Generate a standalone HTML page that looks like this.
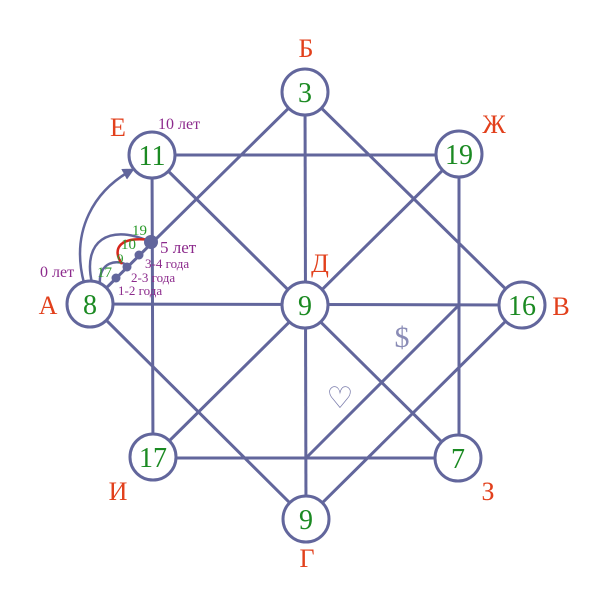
<!DOCTYPE html>
<html><head><meta charset="utf-8"><style>
html,body{margin:0;padding:0;background:#fff;}
svg{display:block;}
text{font-family:"Liberation Serif","DejaVu Serif",serif;}
.n{fill:#1b8a22;font-size:28px;text-anchor:middle;}
.l{fill:#e2401c;font-size:26px;text-anchor:middle;}
.p{fill:#8c2a8c;}
.g{fill:#2a9a2a;}
</style></head><body>
<svg width="610" height="607" viewBox="0 0 610 607" xmlns="http://www.w3.org/2000/svg">
<defs><marker id="ar" markerWidth="12" markerHeight="12" refX="9" refY="6" orient="auto" markerUnits="userSpaceOnUse"><path d="M0,0 L12,6 L0,12 z" fill="#62669c"/></marker></defs>
<g stroke="#62669c" stroke-width="3" fill="none">
<path d="M152,155 H459 V458 H153 Z"/>
<path d="M305,92 L522,305 L306,519 L90,304 Z"/>
<line x1="90" y1="304" x2="522" y2="305"/>
<line x1="305" y1="92" x2="306" y2="519"/>
<line x1="152" y1="155" x2="458" y2="458"/>
<line x1="459" y1="154" x2="153" y2="457"/>
<line x1="459" y1="305" x2="306" y2="458"/>
<path d="M84,283 C70,230 95,190 132,170" stroke-width="2.5" marker-end="url(#ar)"/>
<path d="M92,283 C82,240 110,225 146,240" stroke-width="2.5"/>
<path d="M100,284 C98,262 118,258 128,266" stroke-width="2.5"/>
</g>
<path d="M122,264 C112,250 118,236 150,240" stroke="#d6261c" stroke-width="2.5" fill="none"/>
<g fill="#62669c">
<circle cx="116" cy="278" r="4.5"/><circle cx="127" cy="267" r="4.5"/><circle cx="139" cy="255" r="4.5"/><circle cx="151" cy="242" r="7"/>
</g>
<g fill="#fff" stroke="#62669c" stroke-width="3">
<circle cx="305" cy="92" r="23"/><circle cx="152" cy="155" r="23"/><circle cx="459" cy="154" r="23"/>
<circle cx="90" cy="304" r="23"/><circle cx="305" cy="305" r="23"/><circle cx="522" cy="305" r="23"/>
<circle cx="153" cy="457" r="23"/><circle cx="458" cy="458" r="23"/><circle cx="306" cy="519" r="23"/>
</g>
<text class="n" x="305" y="102">3</text>
<text class="n" x="152" y="165">11</text>
<text class="n" x="459" y="164">19</text>
<text class="n" x="90" y="314">8</text>
<text class="n" x="305" y="315">9</text>
<text class="n" x="522" y="315">16</text>
<text class="n" x="153" y="467">17</text>
<text class="n" x="458" y="468">7</text>
<text class="n" x="306" y="529">9</text>
<text class="l" x="306" y="57">Б</text>
<text class="l" x="118" y="136">Е</text>
<text class="l" x="494" y="133">Ж</text>
<text class="l" x="48" y="314">А</text>
<text class="l" x="320" y="272">Д</text>
<text class="l" x="561" y="315">В</text>
<text class="l" x="118" y="500">И</text>
<text class="l" x="488" y="500">З</text>
<text class="l" x="307" y="567">Г</text>
<text x="402" y="347" fill="#8a8cb6" style="font-size:30px" text-anchor="middle">$</text>
<text x="340" y="408" fill="#7a7cac" style="font-size:30px" text-anchor="middle">♡</text>
<text class="p" x="158" y="129" style="font-size:16px">10 лет</text>
<text class="p" x="40" y="277" style="font-size:16px">0 лет</text>
<text class="p" x="160" y="253" style="font-size:17px">5 лет</text>
<text class="p" x="145" y="268" style="font-size:13px">3-4 года</text>
<text class="p" x="131" y="282" style="font-size:13px">2-3 года</text>
<text class="p" x="118" y="295" style="font-size:13px">1-2 года</text>
<text class="g" x="132" y="235" style="font-size:15px">19</text>
<text class="g" x="121" y="249" style="font-size:15px">10</text>
<text class="g" x="117" y="263" style="font-size:13px">9</text>
<text class="g" x="97" y="277" style="font-size:15px">17</text>
</svg>
</body></html>
